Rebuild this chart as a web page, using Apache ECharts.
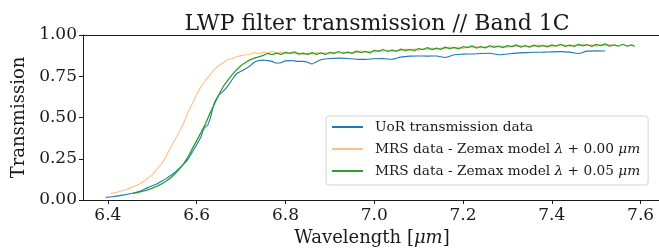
<!DOCTYPE html>
<html>
<head>
<meta charset="utf-8">
<script src="https://cdn.jsdelivr.net/npm/echarts@6/dist/echarts.min.js"></script>
<style>
  html, body { margin: 0; padding: 0; background: #fff; }
  #chart { width: 659px; height: 250px; }
</style>
</head>
<body>
<div id="chart"></div>
<script>
// tick labels
var xTicks = [6.4, 6.6, 6.8, 7.0, 7.2, 7.4, 7.6];
var yTicks = [0, 0.25, 0.5, 0.75, 1.0];

// UoR transmission data
var uorWl = [6.395, 6.41, 6.43, 6.45, 6.47, 6.49, 6.50, 6.51, 6.52, 6.53, 6.54, 6.55, 6.56, 6.57, 6.58, 6.59,
  6.60, 6.61, 6.615, 6.62, 6.625, 6.63, 6.635, 6.64, 6.645, 6.65, 6.66, 6.67, 6.68, 6.69, 6.70, 6.71, 6.72,
  6.73, 6.74, 6.75, 6.76, 6.77, 6.78, 6.79, 6.80, 6.81, 6.82, 6.83, 6.84, 6.85, 6.86, 6.87, 6.88, 6.90, 6.92,
  6.94, 6.96, 6.98, 7.00, 7.02, 7.04, 7.06, 7.08, 7.10, 7.12, 7.14, 7.16, 7.18, 7.20, 7.22, 7.24, 7.26, 7.28,
  7.30, 7.32, 7.34, 7.36, 7.38, 7.40, 7.42, 7.44, 7.46, 7.48, 7.50, 7.52];
var uorT = [0.016, 0.020, 0.028, 0.038, 0.052, 0.075, 0.087, 0.097, 0.112, 0.128, 0.145, 0.165, 0.190, 0.215, 0.245, 0.290,
  0.335, 0.385, 0.425, 0.445, 0.455, 0.490, 0.540, 0.590, 0.615, 0.635, 0.660, 0.690, 0.730, 0.765, 0.780, 0.795, 0.812,
  0.835, 0.845, 0.848, 0.845, 0.840, 0.830, 0.832, 0.843, 0.845, 0.843, 0.840, 0.840, 0.835, 0.824, 0.838, 0.850, 0.858, 0.860,
  0.858, 0.853, 0.852, 0.856, 0.857, 0.853, 0.866, 0.872, 0.873, 0.872, 0.873, 0.864, 0.880, 0.884, 0.885, 0.888, 0.889, 0.880,
  0.885, 0.890, 0.893, 0.895, 0.896, 0.898, 0.899, 0.896, 0.888, 0.902, 0.904, 0.903];

// MRS data - Zemax model, lambda + 0.00
var mrs0Wl = [6.407, 6.42, 6.43, 6.44, 6.45, 6.46, 6.47, 6.48, 6.49, 6.50, 6.51, 6.52, 6.53, 6.54, 6.55, 6.56, 6.57, 6.58, 6.59,
  6.60, 6.61, 6.62, 6.63, 6.64, 6.65, 6.66, 6.67, 6.68, 6.69, 6.70, 6.71, 6.72, 6.73, 6.74, 6.75, 6.76, 6.77, 6.78, 6.79,
  6.80, 6.81, 6.82, 6.83, 6.84, 6.85, 6.86, 6.87, 6.88, 6.89, 6.90, 6.91, 6.92, 6.93, 6.94, 6.95, 6.96, 6.97, 6.98, 6.99,
  7.00, 7.01, 7.02, 7.03, 7.04, 7.05, 7.06, 7.07, 7.08, 7.09, 7.10, 7.11, 7.12, 7.13, 7.14, 7.15, 7.16, 7.17, 7.18, 7.19,
  7.20, 7.21, 7.22, 7.23, 7.24, 7.25, 7.26, 7.27, 7.28, 7.29, 7.30, 7.31, 7.32, 7.33, 7.34, 7.35, 7.36, 7.37, 7.38, 7.39,
  7.40, 7.41, 7.42, 7.43, 7.44, 7.45, 7.46, 7.47, 7.48, 7.49, 7.50, 7.51, 7.52, 7.53, 7.537];
var mrs0T = [0.040, 0.047, 0.054, 0.062, 0.072, 0.083, 0.096, 0.112, 0.131, 0.152, 0.185, 0.215, 0.258, 0.312, 0.360, 0.408, 0.462, 0.528, 0.582,
  0.640, 0.688, 0.726, 0.758, 0.792, 0.815, 0.832, 0.851, 0.858, 0.868, 0.875, 0.880, 0.882, 0.894, 0.886, 0.896, 0.891, 0.902, 0.892, 0.897,
  0.885, 0.893, 0.885, 0.892, 0.880, 0.888, 0.882, 0.894, 0.886, 0.893, 0.883, 0.894, 0.889, 0.898, 0.888, 0.897, 0.892, 0.904, 0.896, 0.903,
  0.895, 0.906, 0.901, 0.910, 0.900, 0.909, 0.904, 0.916, 0.908, 0.916, 0.906, 0.917, 0.912, 0.921, 0.912, 0.921, 0.916, 0.928, 0.920, 0.927,
  0.917, 0.928, 0.923, 0.931, 0.921, 0.930, 0.925, 0.936, 0.928, 0.934, 0.924, 0.934, 0.929, 0.937, 0.927, 0.935, 0.929, 0.941, 0.932, 0.939,
  0.928, 0.938, 0.933, 0.941, 0.931, 0.939, 0.933, 0.945, 0.936, 0.942, 0.931, 0.941, 0.935, 0.943, 0.937];

// MRS data - Zemax model, lambda + 0.05
var mrs5Wl = [6.457, 6.47, 6.48, 6.49, 6.50, 6.51, 6.52, 6.53, 6.54, 6.55, 6.56, 6.57, 6.58, 6.59, 6.60, 6.61, 6.62, 6.63, 6.64,
  6.65, 6.66, 6.67, 6.68, 6.69, 6.70, 6.71, 6.72, 6.73, 6.74, 6.75, 6.76, 6.77, 6.78, 6.79, 6.80, 6.81, 6.82, 6.83, 6.84,
  6.85, 6.86, 6.87, 6.88, 6.89, 6.90, 6.91, 6.92, 6.93, 6.94, 6.95, 6.96, 6.97, 6.98, 6.99, 7.00, 7.01, 7.02, 7.03, 7.04,
  7.05, 7.06, 7.07, 7.08, 7.09, 7.10, 7.11, 7.12, 7.13, 7.14, 7.15, 7.16, 7.17, 7.18, 7.19, 7.20, 7.21, 7.22, 7.23, 7.24,
  7.25, 7.26, 7.27, 7.28, 7.29, 7.30, 7.31, 7.32, 7.33, 7.34, 7.35, 7.36, 7.37, 7.38, 7.39, 7.40, 7.41, 7.42, 7.43, 7.44,
  7.45, 7.46, 7.47, 7.48, 7.49, 7.50, 7.51, 7.52, 7.53, 7.54, 7.55, 7.56, 7.57, 7.58, 7.587];
var mrs5T = [0.040, 0.047, 0.054, 0.062, 0.072, 0.083, 0.096, 0.112, 0.131, 0.154, 0.185, 0.217, 0.258, 0.310, 0.360, 0.410, 0.462, 0.525, 0.582,
  0.638, 0.688, 0.725, 0.760, 0.790, 0.815, 0.833, 0.849, 0.860, 0.868, 0.876, 0.888, 0.881, 0.890, 0.882, 0.895, 0.888, 0.898, 0.884, 0.890,
  0.882, 0.893, 0.883, 0.891, 0.882, 0.895, 0.889, 0.900, 0.888, 0.896, 0.889, 0.902, 0.893, 0.901, 0.892, 0.907, 0.901, 0.912, 0.900, 0.908,
  0.901, 0.914, 0.905, 0.913, 0.905, 0.918, 0.912, 0.923, 0.911, 0.920, 0.913, 0.926, 0.917, 0.925, 0.916, 0.929, 0.923, 0.934, 0.921, 0.929,
  0.922, 0.935, 0.925, 0.933, 0.923, 0.936, 0.929, 0.940, 0.927, 0.935, 0.927, 0.939, 0.930, 0.937, 0.928, 0.940, 0.933, 0.944, 0.931, 0.939,
  0.931, 0.943, 0.934, 0.941, 0.931, 0.943, 0.936, 0.946, 0.933, 0.940, 0.932, 0.944, 0.933, 0.940, 0.930];

var seriesNames = [
  'UoR transmission data',
  'MRS data - Zemax model \u03bb + 0.00 \u03bcm',
  'MRS data - Zemax model \u03bb + 0.05 \u03bcm'
];

function pairs(xs, ys) {
  var out = [];
  for (var i = 0; i < xs.length; i++) {
    out.push([xs[i], ys[i]]);
  }
  return out;
}

var serif = 'DejaVu Serif';
var ink = '#1a1a1a';

var chart = echarts.init(document.getElementById('chart'), null, { renderer: 'canvas' });

var option = {
  animation: false,
  backgroundColor: '#fff',
  title: {
    text: 'LWP filter transmission // Band 1C',
    left: 372,
    textAlign: 'center',
    top: 8,
    textStyle: { fontFamily: serif, fontSize: 22, fontWeight: 'normal', color: ink }
  },
  grid: {
    left: 83, top: 35, right: -2, bottom: 50,
    containLabel: false,
    outerBoundsMode: 'none'
  },
  legend: {
    orient: 'vertical',
    left: 326,
    top: 116,
    padding: [4, 8, 7, 6],
    itemWidth: 31,
    itemHeight: 2,
    itemGap: 8,
    icon: 'rect',
    backgroundColor: 'rgba(255,255,255,0.8)',
    borderColor: '#d4d4d4',
    borderWidth: 1,
    borderRadius: 3,
    data: seriesNames,
    formatter: function (name) {
      if (name.indexOf('\u03bb') < 0) return '{a|' + name + '}';
      var head = name.split('\u03bb')[0];
      var tail = name.split('\u03bb')[1].replace(' \u03bcm', ' ');
      return '{a|' + head + '}{i|\u03bb}{a|' + tail + '}{i|\u03bcm}';
    },
    textStyle: {
      padding: [0, 0, 0, 7],
      rich: {
        a: { fontFamily: serif, fontSize: 13.7, color: ink, lineHeight: 16 },
        i: { fontFamily: serif, fontStyle: 'italic', fontSize: 13.7, color: ink, lineHeight: 16 }
      }
    }
  },
  xAxis: [{
    type: 'value',
    min: 6.344,
    max: 7.646,
    name: '{a|Wavelength [}{i|\u03bcm}{a|]}',
    nameLocation: 'middle',
    nameGap: 28,
    nameTextStyle: {
      rich: {
        a: { fontFamily: serif, fontSize: 18, color: ink },
        i: { fontFamily: serif, fontStyle: 'italic', fontSize: 18, color: ink }
      }
    },
    splitLine: { show: false },
    axisLine: { show: true, lineStyle: { color: ink, width: 1 } },
    axisTick: { show: true, customValues: xTicks, length: 4, lineStyle: { color: ink } },
    axisLabel: {
      customValues: xTicks,
      margin: 7,
      fontFamily: serif,
      fontSize: 17,
      color: ink,
      formatter: function (v) { return v.toFixed(1); }
    }
  }, {
    // top spine only
    type: 'value',
    position: 'top',
    min: 6.344,
    max: 7.646,
    splitLine: { show: false },
    axisLine: { show: true, lineStyle: { color: ink, width: 1 } },
    axisTick: { show: false },
    axisLabel: { show: false }
  }],
  yAxis: {
    type: 'value',
    min: 0,
    max: 1,
    interval: 0.25,
    name: 'Transmission',
    nameLocation: 'middle',
    nameGap: 51,
    nameTextStyle: { fontFamily: serif, fontSize: 18, color: ink },
    splitLine: { show: false },
    axisLine: { show: true, lineStyle: { color: ink, width: 1 } },
    axisTick: { show: true, length: 4, lineStyle: { color: ink } },
    axisLabel: {
      customValues: yTicks,
      margin: 6,
      fontFamily: serif,
      fontSize: 17,
      color: ink,
      formatter: function (v) { return v.toFixed(2); }
    }
  },
  series: [
    {
      name: seriesNames[0],
      type: 'line',
      data: pairs(uorWl, uorT),
      showSymbol: false,
      symbol: 'none',
      smooth: 0.3,
      color: '#1f77b4',
      lineStyle: { width: 1.1, color: '#1f77b4' }
    },
    {
      name: seriesNames[1],
      type: 'line',
      data: pairs(mrs0Wl, mrs0T),
      showSymbol: false,
      symbol: 'none',
      color: '#ffbf87',
      lineStyle: { width: 1.1, color: '#ffbf87' }
    },
    {
      name: seriesNames[2],
      type: 'line',
      data: pairs(mrs5Wl, mrs5T),
      showSymbol: false,
      symbol: 'none',
      color: '#2ca02c',
      lineStyle: { width: 1.3, color: '#2ca02c' }
    }
  ]
};

chart.setOption(option);
</script>
</body>
</html>
